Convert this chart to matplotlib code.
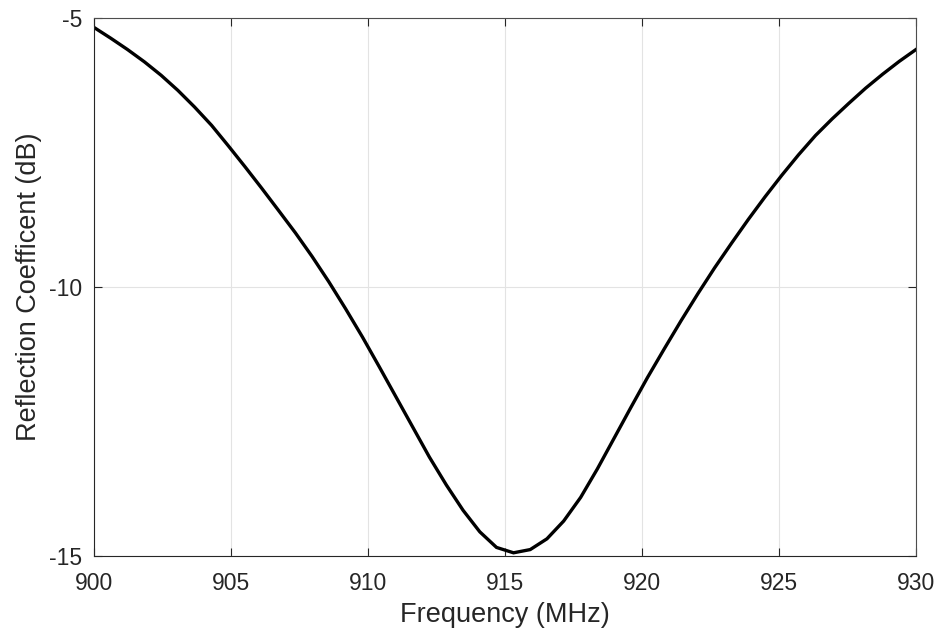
import numpy as np
import matplotlib
matplotlib.use('Agg')
import matplotlib.pyplot as plt

# frequency points (MHz) and reflection coefficient (dB)
freq_mhz = [900.00, 900.61, 901.22, 901.84, 902.45, 903.06, 903.67, 904.29, 904.90, 905.51,
            906.12, 906.73, 907.35, 907.96, 908.57, 909.18, 909.80, 910.41, 911.02, 911.63,
            912.24, 912.86, 913.47, 914.08, 914.69, 915.31, 915.92, 916.53, 917.14, 917.76,
            918.37, 918.98, 919.59, 920.20, 920.82, 921.43, 922.04, 922.65, 923.27, 923.88,
            924.49, 925.10, 925.71, 926.33, 926.94, 927.55, 928.16, 928.78, 929.39, 930.00]
refl_db = [-5.17, -5.37, -5.58, -5.81, -6.06, -6.34, -6.65, -6.99, -7.37, -7.76,
           -8.16, -8.57, -8.99, -9.43, -9.90, -10.40, -10.93, -11.48, -12.04, -12.60,
           -13.16, -13.68, -14.15, -14.55, -14.84, -14.94, -14.88, -14.68, -14.35, -13.91,
           -13.38, -12.81, -12.24, -11.68, -11.14, -10.62, -10.12, -9.64, -9.18, -8.74,
           -8.32, -7.92, -7.54, -7.18, -6.87, -6.58, -6.30, -6.04, -5.80, -5.58]

xticks = [900, 905, 910, 915, 920, 925, 930]
yticks = [-15, -10, -5]

plt.rcParams['font.family'] = ['Liberation Sans', 'DejaVu Sans']
plt.rcParams['axes.unicode_minus'] = False

txt = '#262626'
fig = plt.figure(figsize=(9.4, 6.33), dpi=100)
ax = fig.add_axes([0.1, 0.1216, 0.8745, 0.8495])

ax.plot(freq_mhz, refl_db, color='black', lw=2.4, solid_joinstyle='miter')

ax.set_xlim(900, 930)
ax.set_ylim(-15, -5)
ax.set_xticks(xticks)
ax.set_yticks(yticks)
ax.grid(True, color='#e3e3e3', lw=0.8)
ax.set_axisbelow(True)

ax.tick_params(direction='in', length=5.5, width=0.8, color=txt,
               top=True, right=True, labelsize=16.5, labelcolor=txt)
ax.tick_params(axis='x', pad=11.5)
ax.tick_params(axis='y', pad=8.5)
for s in ax.spines.values():
    s.set_color('#4d4d4d')
    s.set_linewidth(0.8)
ax.spines['left'].set_color(txt)
ax.spines['bottom'].set_color(txt)

ax.set_xlabel('Frequency (MHz)', fontsize=19.5, color=txt, labelpad=5)
ax.set_ylabel('Reflection Coefficent (dB)', fontsize=19.5, color=txt, labelpad=5)

fig.savefig('out.png', dpi=100)
